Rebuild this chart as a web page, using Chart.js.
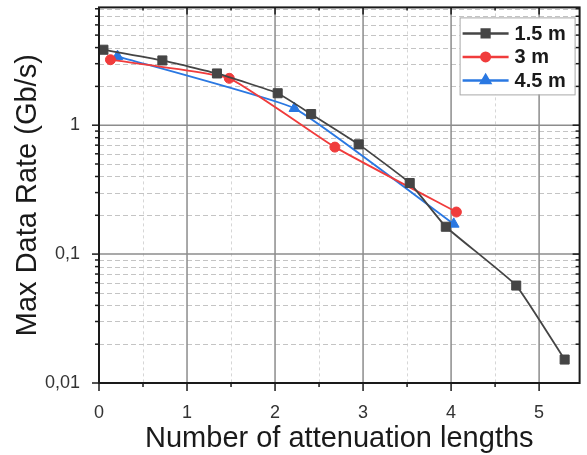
<!DOCTYPE html>
<html>
<head>
<meta charset="utf-8">
<script src="https://cdn.jsdelivr.net/npm/chart.js@4.4.1/dist/chart.umd.min.js"></script>
<style>
  html, body { margin: 0; padding: 0; background: #fff; }
</style>
</head>
<body>
<canvas id="rateChart" width="587" height="455"></canvas>
<script>
// data
const seriesNames = ['1.5 m', '3 m', '4.5 m'];

const len15 = [0.05, 0.72, 1.34, 2.03, 2.41, 2.95, 3.53, 3.94, 4.74, 5.29];
const rate15 = [3.85, 3.18, 2.52, 1.77, 1.22, 0.71, 0.356, 0.163, 0.057, 0.0152];

const len30 = [0.13, 1.48, 2.68, 4.06];
const rate30 = [3.22, 2.31, 0.676, 0.212];

const len45 = [0.21, 2.22, 4.03];
const rate45 = [3.42, 1.35, 0.171];

const xTickLabels = [0, 1, 2, 3, 4, 5];
const yTickLabels = [0.01, 0.1, 1];

const colors = ['#454545', '#f03c3c', '#2a78e2'];
const markers = ['rect', 'circle', 'triangle'];
const markerSizes = [6.4, 5, 6.2];

const FONT = "'Liberation Sans', Arial, sans-serif";

function toPoints(xs, ys) {
  return xs.map((v, i) => ({ x: v, y: ys[i] }));
}

// grid, frame and tick marks drawn Origin-style
const frameAndGrid = {
  id: 'frameAndGrid',
  beforeDatasetsDraw(chart) {
    const { ctx, chartArea: a, scales: { x, y } } = chart;
    ctx.save();
    // minor verticals (half steps)
    ctx.strokeStyle = '#d6d6d6';
    ctx.lineWidth = 1;
    ctx.setLineDash([3, 3]);
    for (let v = 0.5; v < x.max; v += 1) {
      const px = Math.round(x.getPixelForValue(v)) + 0.5;
      ctx.beginPath(); ctx.moveTo(px, a.top); ctx.lineTo(px, a.bottom); ctx.stroke();
    }
    // minor horizontals
    ctx.strokeStyle = '#c4c4c4';
    ctx.setLineDash([5, 3]);
    yTickLabels.forEach(d => {
      for (let m = 2; m <= 9; m++) {
        const v = m * d;
        if (v >= y.max) break;
        const py = Math.round(y.getPixelForValue(v)) + 0.5;
        ctx.beginPath(); ctx.moveTo(a.left, py); ctx.lineTo(a.right, py); ctx.stroke();
      }
    });
    // major lines
    ctx.setLineDash([]);
    ctx.strokeStyle = '#8c8c8c';
    ctx.lineWidth = 1.5;
    xTickLabels.forEach(v => {
      if (v <= x.min) return;
      const px = x.getPixelForValue(v);
      ctx.beginPath(); ctx.moveTo(px, a.top); ctx.lineTo(px, a.bottom); ctx.stroke();
    });
    yTickLabels.forEach(v => {
      if (v <= y.min) return;
      const py = y.getPixelForValue(v);
      ctx.beginPath(); ctx.moveTo(a.left, py); ctx.lineTo(a.right, py); ctx.stroke();
    });
    ctx.restore();
  },
  afterDatasetsDraw(chart) {
    const { ctx, chartArea: a, scales: { x, y } } = chart;
    ctx.save();
    ctx.strokeStyle = '#1a1a1a';
    ctx.lineWidth = 1.5;
    const tick = (x1, y1, x2, y2) => { ctx.beginPath(); ctx.moveTo(x1, y1); ctx.lineTo(x2, y2); ctx.stroke(); };
    // x ticks: bottom outward, top inward
    for (let v = 0; v <= x.max; v += 0.5) {
      const px = x.getPixelForValue(v);
      const major = Number.isInteger(v);
      const l = major ? 8 : 4;
      tick(px, a.bottom, px, a.bottom + l);
      tick(px, a.top, px, a.top + l - 1);
    }
    // y ticks: left outward, right inward
    yTickLabels.forEach(d => {
      for (let m = 1; m <= 9; m++) {
        const v = m * d;
        if (v > y.max) break;
        const py = y.getPixelForValue(v);
        const l = m === 1 ? 7 : 4;
        tick(a.left, py, a.left - l, py);
        tick(a.right, py, a.right - l, py);
      }
    });
    ctx.lineWidth = 2;
    ctx.strokeRect(a.left, a.top, a.right - a.left, a.bottom - a.top);
    ctx.restore();
  },
  afterDraw(chart) {
    // legend box in the upper right corner
    const { ctx, chartArea: a } = chart;
    const boxW = 115, boxH = 77;
    const bx = a.right - 5 - boxW, by = a.top + 10;
    ctx.save();
    ctx.fillStyle = '#fff';
    ctx.fillRect(bx, by, boxW, boxH);
    ctx.strokeStyle = '#a8a8a8';
    ctx.lineWidth = 1;
    ctx.strokeRect(bx + 0.5, by + 0.5, boxW, boxH);
    chart.data.datasets.forEach((ds, i) => {
      const cy = by + 16 + i * 23.5;
      ctx.strokeStyle = ds.borderColor;
      ctx.fillStyle = ds.backgroundColor;
      ctx.lineWidth = 2.5;
      ctx.beginPath(); ctx.moveTo(bx + 3, cy); ctx.lineTo(bx + 49, cy); ctx.stroke();
      Chart.helpers.drawPoint(ctx, { pointStyle: ds.pointStyle, radius: ds.pointRadius * 0.85, rotation: 0, borderWidth: 1 }, bx + 26, cy);
      ctx.fillStyle = '#1a1a1a';
      ctx.font = 'bold 20px ' + FONT;
      ctx.textBaseline = 'middle';
      ctx.fillText(ds.label, bx + 55, cy + 1);
    });
    ctx.restore();
  }
};

const datasets = [
  toPoints(len15, rate15),
  toPoints(len30, rate30),
  toPoints(len45, rate45)
].map((pts, i) => ({
  label: seriesNames[i],
  data: pts,
  borderColor: colors[i],
  backgroundColor: colors[i],
  borderWidth: 1.8,
  pointStyle: markers[i],
  pointRadius: markerSizes[i],
  pointBorderWidth: 1,
  tension: 0.12
}));

new Chart(document.getElementById('rateChart'), {
  type: 'line',
  data: { datasets },
  options: {
    responsive: false,
    animation: false,
    layout: { padding: { top: 6, right: 5, left: 0, bottom: 0 } },
    plugins: { legend: { display: false }, tooltip: { enabled: false } },
    scales: {
      x: {
        type: 'linear',
        min: 0,
        max: 5.46,
        afterBuildTicks: s => { s.ticks = xTickLabels.map(v => ({ value: v })); },
        afterFit: s => { s.height = 72; s.paddingLeft = 0; s.paddingRight = 0; },
        grid: { display: false },
        border: { display: false },
        ticks: {
          padding: 11,
          color: '#333',
          font: { family: FONT, size: 18 },
          maxRotation: 0
        },
        title: {
          display: true,
          text: 'Number of attenuation lengths',
          color: '#1a1a1a',
          font: { family: FONT, size: 29, lineHeight: 1 },
          padding: { top: 0, bottom: 2 }
        }
      },
      y: {
        type: 'logarithmic',
        min: 0.01,
        max: 8.2,
        afterBuildTicks: s => { s.ticks = yTickLabels.map(v => ({ value: v })); },
        afterFit: s => { s.width = 99; s.paddingTop = 0; s.paddingBottom = 0; },
        grid: { display: false },
        border: { display: false },
        ticks: {
          padding: 11,
          color: '#333',
          font: { family: FONT, size: 18 },
          callback: v => String(v).replace('.', ',')
        },
        title: {
          display: true,
          text: 'Max Data Rate (Gb/s)',
          color: '#1a1a1a',
          font: { family: FONT, size: 29, lineHeight: 1 },
          padding: { top: 13, bottom: 0 }
        }
      }
    }
  },
  plugins: [frameAndGrid]
});
</script>
</body>
</html>
